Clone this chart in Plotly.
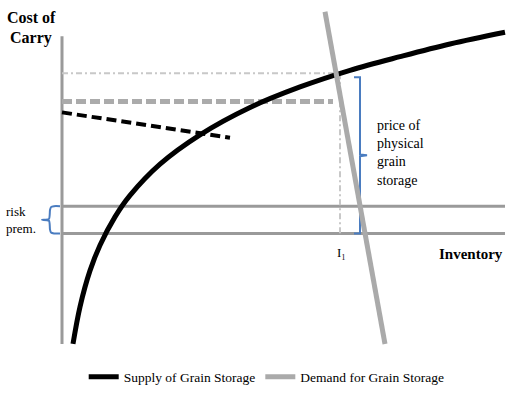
import plotly.graph_objects as go

# Data space: inventory (x) and cost of carry (y); origin at the axis corner
supply_x = [11, 18, 28, 38, 53, 68, 98, 138, 188, 238, 288, 338, 388, 443]
supply_y = [-113, -75, -38, -12, 17, 39, 71, 101, 129, 150, 167, 181, 194, 206]

demand_x = [263, 323]
demand_y = [227, -113]

price_level = 164      # price where supply meets demand
inventory_I1 = 278     # I1
futures_level = 135    # gray dashed level
futures_end = 271
conv_x = [0, 168]      # black dashed convenience-yield line
conv_y = [124, 98]
risk_prem = 28
x_end = 443
y_axis_bottom, y_axis_top = -113, 202

BLUE = "#4a7cc0"
SERIF = "Liberation Serif"

fig = go.Figure()

# axes drawn as lines
fig.add_trace(go.Scatter(x=[0, 0], y=[y_axis_bottom, y_axis_top], mode="lines",
                         line=dict(color="#9a9a9a", width=3), showlegend=False, hoverinfo="skip"))
fig.add_trace(go.Scatter(x=[0, x_end], y=[0, 0], mode="lines",
                         line=dict(color="#9a9a9a", width=3), showlegend=False, hoverinfo="skip"))
fig.add_trace(go.Scatter(x=[0, x_end], y=[risk_prem, risk_prem], mode="lines",
                         line=dict(color="#9a9a9a", width=3), showlegend=False, hoverinfo="skip"))

# dash-dot guides
fig.add_trace(go.Scatter(x=[0, inventory_I1 - 2], y=[price_level, price_level], mode="lines",
                         line=dict(color="#c8c8c8", width=2, dash="6px,3px,2px,3px"),
                         showlegend=False, hoverinfo="skip"))
fig.add_trace(go.Scatter(x=[inventory_I1, inventory_I1], y=[price_level, 0], mode="lines",
                         line=dict(color="#c8c8c8", width=2, dash="6px,3px,2px,3px"),
                         showlegend=False, hoverinfo="skip"))

# gray dashed
fig.add_trace(go.Scatter(x=[0, futures_end], y=[futures_level, futures_level], mode="lines",
                         line=dict(color="#ababab", width=5, dash="10px,4px"),
                         showlegend=False, hoverinfo="skip"))
# black dashed
fig.add_trace(go.Scatter(x=conv_x, y=conv_y, mode="lines",
                         line=dict(color="black", width=4, dash="10px,5px"),
                         showlegend=False, hoverinfo="skip"))

# brackets
rb_x = [292, 298, 298, 305, 298, 298, 292]
rb_y = [160, 160, 81, 80, 79, 0, 0]
fig.add_trace(go.Scatter(x=rb_x, y=rb_y, mode="lines",
                         line=dict(color=BLUE, width=2), showlegend=False, hoverinfo="skip"))
lb_x = [-2, -8, -11, -12, -13, -20, -13, -12, -11, -8, -2]
lb_y = [28, 28, 27, 24, 15, 14, 13, 4, 1, 0, 0]
fig.add_trace(go.Scatter(x=lb_x, y=lb_y, mode="lines",
                         line=dict(color=BLUE, width=2, shape="spline", smoothing=0.6),
                         showlegend=False, hoverinfo="skip"))

# supply and demand
fig.add_trace(go.Scatter(x=supply_x, y=supply_y, mode="lines", name="Supply of Grain Storage",
                         line=dict(color="black", width=5, shape="spline"), hoverinfo="skip"))
fig.add_trace(go.Scatter(x=demand_x, y=demand_y, mode="lines", name="Demand for Grain Storage",
                         line=dict(color="#aaaaaa", width=5), hoverinfo="skip"))

ann = [
    dict(x=-31, y=221, text="<b>Cost of</b>", font=dict(size=16)),
    dict(x=-31, y=200, text="<b>Carry</b>", font=dict(size=16)),
    dict(x=443, y=-21, text="<b>Inventory</b>", font=dict(size=15), xanchor="right"),
    dict(x=inventory_I1 + 1, y=-19, text="I₁", font=dict(size=13)),
    dict(x=-58, y=14, text="risk<br>prem.", font=dict(size=13), xanchor="left", align="left"),
    dict(x=313, y=82, text="price of<br>physical<br>grain<br>storage", font=dict(size=14),
         xanchor="left", align="left"),
]
for a in ann:
    a.setdefault("xanchor", "center")
    a["showarrow"] = False
    a["xref"] = "x"
    a["yref"] = "y"
    a["font"]["family"] = SERIF
    a["font"]["color"] = "black"
    fig.add_annotation(**a)

fig.update_layout(
    width=508, height=393,
    margin=dict(l=0, r=0, t=0, b=0),
    paper_bgcolor="white", plot_bgcolor="white",
    xaxis=dict(range=[-62, 446], visible=False, fixedrange=True),
    yaxis=dict(range=[-154, 239], visible=False, fixedrange=True),
    showlegend=True,
    legend=dict(orientation="h", x=0.525, xanchor="center", y=0.018, yanchor="middle",
                font=dict(family=SERIF, size=13.5, color="black"), itemwidth=30,
                bgcolor="rgba(0,0,0,0)"),
)

fig.write_html("out.html", config={"displayModeBar": False},
               post_script="document.body.style.margin='0';")
